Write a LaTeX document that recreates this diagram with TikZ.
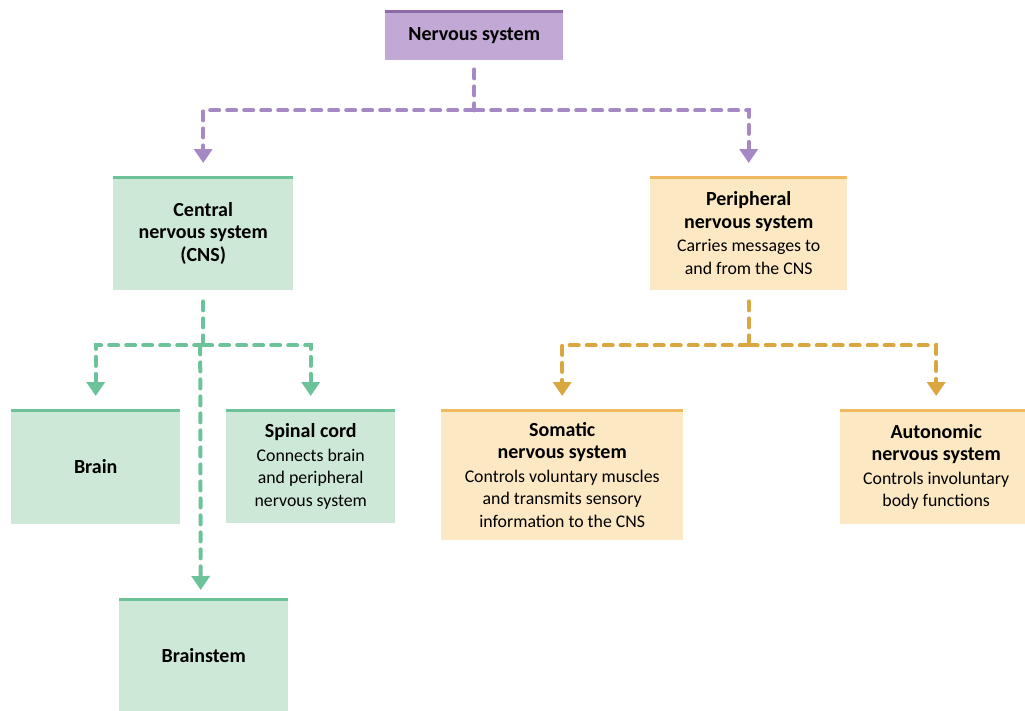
\documentclass[tikz,border=0pt]{standalone}
\usepackage{fontspec}
\setmainfont{Carlito}
\usetikzlibrary{arrows.meta,calc}
\definecolor{pfill}{RGB}{193,168,213}
\definecolor{pbar}{RGB}{142,106,168}
\definecolor{pline}{RGB}{166,137,196}
\definecolor{gfill}{RGB}{205,232,214}
\definecolor{gbar}{RGB}{108,195,154}
\definecolor{gline}{RGB}{108,195,154}
\definecolor{ofill}{RGB}{253,232,196}
\definecolor{obar}{RGB}{240,185,96}
\definecolor{oline}{RGB}{217,166,64}
\newcommand{\tfnt}{\fontsize{20}{22.5}\selectfont\bfseries}
\newcommand{\bfnt}{\fontsize{17.8}{20}\selectfont\mdseries}
\begin{document}
\begin{tikzpicture}[x=1pt,y=-1pt,
  box/.style={rectangle,anchor=north west,inner sep=0pt,align=center,text=black,font=\tfnt},
  conn/.style={line width=4pt,dash pattern=on 9pt off 8pt,line cap=round},
  tip/.style={-{Triangle[width=18pt,length=14pt]}}]
\useasboundingbox (0,0) rectangle (1025,710);
\clip (0,0) rectangle (1025,710);
% boxes
\node[box,fill=pfill,minimum width=178pt,minimum height=50pt] (ns) at (385,10) {Nervous system};
\node[box,fill=gfill,minimum width=180pt,minimum height=114pt] (cns) at (113,176) {Central\\nervous system\\(CNS)};
\node[box,fill=ofill,minimum width=197pt,minimum height=114pt] (pns) at (650,176) {Peripheral\\nervous system\\[1pt]\bfnt Carries messages to\\\bfnt and from the CNS};
\node[box,fill=gfill,minimum width=169pt,minimum height=115pt] (br) at (11,409) {Brain};
\node[box,fill=gfill,minimum width=169pt,minimum height=114pt] (sc) at (226,409) {Spinal cord\\[1pt]\bfnt Connects brain\\\bfnt and peripheral\\\bfnt nervous system};
\node[box,fill=ofill,minimum width=242pt,minimum height=131pt] (so) at (441,409) {Somatic\\nervous system\\[1pt]\bfnt Controls voluntary muscles\\\bfnt and transmits sensory\\\bfnt information to the CNS};
\node[box,fill=ofill,minimum width=192pt,minimum height=115pt] (au) at (840,409) {Autonomic\\nervous system\\[1pt]\bfnt Controls involuntary\\\bfnt body functions};
\node[box,fill=gfill,minimum width=169pt,minimum height=114pt] (bs) at (119,598) {Brainstem};
% top bars
\draw[pbar,line width=3pt] ([yshift=-1.5pt]ns.north west) -- ([yshift=-1.5pt]ns.north east);
\foreach \n in {cns,br,sc,bs}{\draw[gbar,line width=3pt] ([yshift=-1.5pt]\n.north west) -- ([yshift=-1.5pt]\n.north east);}
\foreach \n in {pns,so,au}{\draw[obar,line width=3pt] ([yshift=-1.5pt]\n.north west) -- ([yshift=-1.5pt]\n.north east);}
% connectors
\coordinate (pj) at ($(ns.south)+(0,50)$);
\draw[conn,pline] ($(ns.south)+(0,9)$) -- (pj);
\draw[conn,pline,tip] (pj) -| ($(cns.north)+(0,-13)$);
\draw[conn,pline,tip] (pj) -| ($(pns.north)+(0,-13)$);
\coordinate (gj) at ($(cns.south)+(0,55)$);
\draw[conn,gline] ($(cns.south)+(0,11)$) -- (gj);
\draw[conn,gline,tip] (gj) -| ($(br.north)+(0,-13)$);
\draw[conn,gline,tip] (gj) -| ($(sc.north)+(0,-13)$);
\draw[conn,gline,tip] ($(gj)+(-3,0)$) -- ($(bs.north)+(-3,-8)$);
\coordinate (oj) at ($(pns.south)+(0,55)$);
\draw[conn,oline] ($(pns.south)+(0,11)$) -- (oj);
\draw[conn,oline,tip] (oj) -| ($(so.north)+(0,-13)$);
\draw[conn,oline,tip] (oj) -| ($(au.north)+(0,-13)$);
\end{tikzpicture}
\end{document}
